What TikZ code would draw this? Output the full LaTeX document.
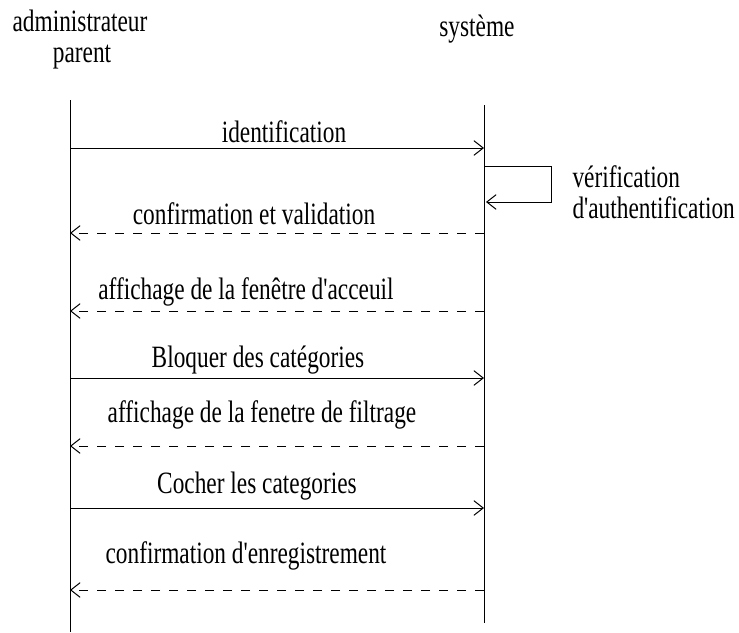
\documentclass[tikz,border=0pt]{standalone}
\usepackage{fontspec}
\setmainfont{Liberation Serif}
\usetikzlibrary{arrows.meta}

\tikzset{every picture/.style={line width=0.75pt}}
\tikzset{
	lbl/.style={font=\fontsize{17.5}{21}\selectfont, inner sep=0pt, anchor=base},
	call/.style={draw, -{Straight Barb[length=7pt,width=11pt,line width=0.75pt]}},
	reply/.style={call, dash pattern=on 7pt off 6.5pt},
}
\newcommand{\tall}[1]{\scalebox{1}[1.33]{#1}}
\newcommand{\q}{\textquotesingle}

\begin{document}
\begin{tikzpicture}[x=0.75pt,y=0.75pt,yscale=-1,xscale=1]
	\useasboundingbox (0,0) rectangle (739,632);

	% Lifeline ends
	\coordinate (admtop) at (70,100);
	\coordinate (admbot) at (70,632);
	\coordinate (systop) at (484,105);
	\coordinate (sysbot) at (484,623);

	% Message ends
	\coordinate (a1) at (70,148);  \coordinate (s1) at (484,148);
	\coordinate (a2) at (70,233);  \coordinate (s2) at (484,233);
	\coordinate (a3) at (70,311);  \coordinate (s3) at (484,311);
	\coordinate (a4) at (70,378);  \coordinate (s4) at (484,378);
	\coordinate (a5) at (70,446);  \coordinate (s5) at (484,446);
	\coordinate (a6) at (70,508);  \coordinate (s6) at (484,508);
	\coordinate (a7) at (70,590);  \coordinate (s7) at (484,590);

	% Self message corners
	\coordinate (l1) at (484,166);
	\coordinate (l2) at (551,166);
	\coordinate (l3) at (551,202);
	\coordinate (l4) at (486,202);

	% Actors
	\node[lbl] (adm) at (80,31) {\tall{administrateur}};
	\node[lbl] (par) at (82,62) {\tall{parent}};
	\node[lbl] (sys) at (477,36) {\tall{système}};

	% Lifelines
	\draw (admtop) -- (admbot);
	\draw (systop) -- (sysbot);

	% Messages
	\draw[call] (a1) -- (s1);
	\draw[call] (l1) -- (l2) -- (l3) -- (l4);
	\draw[reply] (s2) -- (a2);
	\draw[reply] (s3) -- (a3);
	\draw[call] (a4) -- (s4);
	\draw[reply] (s5) -- (a5);
	\draw[call] (a6) -- (s6);
	\draw[reply] (s7) -- (a7);

	% Text Node
	\node[lbl] (t1) at (284,142) {\tall{identification}};
	\node[lbl, anchor=base west] (tv1) at (572,187) {\tall{vérification}};
	\node[lbl, anchor=base west] (tv2) at (572,218) {\tall{d\q authentification}};
	\node[lbl] (t2) at (254,224) {\tall{confirmation et validation}};
	\node[lbl] (t3) at (246,299) {\tall{affichage de la fenêtre d\q acceuil}};
	\node[lbl] (t4) at (258,367) {\tall{Bloquer des catégories}};
	\node[lbl] (t5) at (262,422) {\tall{affichage de la fenetre de filtrage}};
	\node[lbl] (t6) at (257,493) {\tall{Cocher les categories}};
	\node[lbl] (t7) at (246,563) {\tall{confirmation d\q enregistrement}};

\end{tikzpicture}
\end{document}
